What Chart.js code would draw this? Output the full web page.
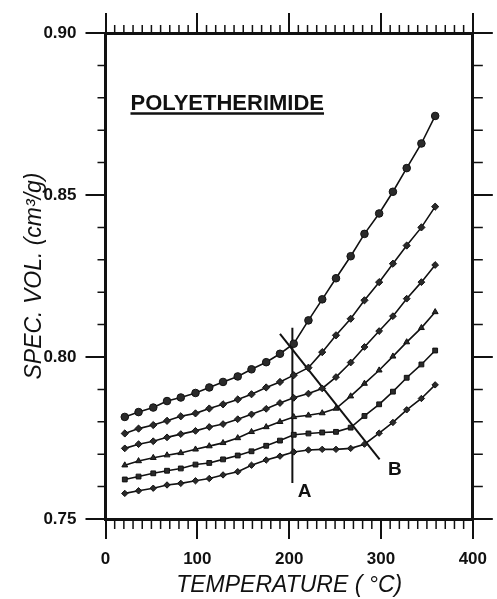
<!DOCTYPE html>
<html>
<head>
<meta charset="utf-8">
<script src="https://cdn.jsdelivr.net/npm/chart.js@4.4.0/dist/chart.umd.min.js"></script>
<style>
  html, body { margin: 0; padding: 0; background: #fff; }
</style>
</head>
<body>
<canvas id="pvt" width="497" height="599"></canvas>
<script>
// temperatures (°C) of the isotherms, shared by all six isobars
const temps = [21, 36, 52, 67, 82, 98, 113, 128, 144, 159, 175, 190, 205, 221, 236, 251, 267, 282, 298, 313, 328, 344, 359];

// specific volume (cm3/g), lowest pressure at top
const iso1 = [0.7815, 0.7830, 0.7844, 0.7864, 0.7875, 0.7889, 0.7906, 0.7923, 0.7940, 0.7962, 0.7984, 0.8010, 0.8041, 0.8113, 0.8178, 0.8243, 0.8311, 0.8380, 0.8443, 0.8510, 0.8583, 0.8659, 0.8744];
const iso2 = [0.7764, 0.7779, 0.7790, 0.7803, 0.7817, 0.7826, 0.7841, 0.7854, 0.7869, 0.7885, 0.7906, 0.7923, 0.7944, 0.7967, 0.8015, 0.8067, 0.8118, 0.8175, 0.8231, 0.8288, 0.8344, 0.8400, 0.8464];
const iso3 = [0.7718, 0.7731, 0.7740, 0.7752, 0.7762, 0.7772, 0.7784, 0.7793, 0.7808, 0.7823, 0.7840, 0.7858, 0.7874, 0.7887, 0.7903, 0.7938, 0.7983, 0.8031, 0.8080, 0.8126, 0.8180, 0.8231, 0.8284];
const iso4 = [0.7666, 0.7679, 0.7689, 0.7697, 0.7704, 0.7715, 0.7725, 0.7735, 0.7750, 0.7769, 0.7784, 0.7800, 0.7815, 0.7820, 0.7827, 0.7841, 0.7879, 0.7918, 0.7959, 0.8002, 0.8046, 0.8090, 0.8139];
const iso5 = [0.7622, 0.7631, 0.7641, 0.7649, 0.7656, 0.7668, 0.7673, 0.7684, 0.7696, 0.7709, 0.7726, 0.7742, 0.7760, 0.7764, 0.7767, 0.7769, 0.7782, 0.7818, 0.7854, 0.7893, 0.7936, 0.7977, 0.8020];
const iso6 = [0.7579, 0.7587, 0.7595, 0.7605, 0.7610, 0.7618, 0.7625, 0.7636, 0.7646, 0.7666, 0.7682, 0.7694, 0.7707, 0.7713, 0.7715, 0.7715, 0.7718, 0.7731, 0.7765, 0.7798, 0.7837, 0.7872, 0.7914];

// guide lines A (vertical) and B (through the transitions)
const lineA = [[203.5, 0.7611], [203.5, 0.8090]];
const lineB = [[190, 0.8071], [298.5, 0.7684]];

const xTicks = [0, 100, 200, 300, 400];
const yTicks = [0.75, 0.80, 0.85, 0.90];

const INK = '#111';
const FAMILY = '"Liberation Sans", Arial, sans-serif';

function pts(vals) {
  return vals.map((v, i) => ({ x: temps[i], y: v }));
}
function pairPts(arr) {
  return arr.map(p => ({ x: p[0], y: p[1] }));
}

function isobar(vals, style, r) {
  return {
    data: pts(vals),
    showLine: true,
    borderColor: INK,
    borderWidth: 1.6,
    tension: 0,
    pointStyle: style,
    pointRadius: r,
    pointBackgroundColor: '#2a2a2a',
    pointBorderColor: INK,
    pointBorderWidth: 1
  };
}

function guide(arr) {
  return {
    data: pairPts(arr),
    showLine: true,
    borderColor: INK,
    borderWidth: 2,
    pointRadius: 0,
    tension: 0
  };
}

// minor ticks, outward on all four sides
const minorTicks = {
  id: 'minorTicks',
  afterDraw(chart) {
    const { ctx, chartArea: a, scales } = chart;
    ctx.save();
    ctx.strokeStyle = INK;
    ctx.lineWidth = 1.5;
    ctx.beginPath();
    for (let t = 10; t < 400; t += 10) {
      if (t % 100 === 0) continue;
      const px = scales.x.getPixelForValue(t);
      ctx.moveTo(px, a.bottom); ctx.lineTo(px, a.bottom + 10);
      ctx.moveTo(px, a.top); ctx.lineTo(px, a.top - 8);
    }
    for (let k = 76; k < 90; k++) {
      if (k % 5 === 0) continue;
      const py = scales.y.getPixelForValue(k / 100);
      ctx.moveTo(a.left, py); ctx.lineTo(a.left - 8, py);
      ctx.moveTo(a.right, py); ctx.lineTo(a.right + 10, py);
    }
    ctx.stroke();
    ctx.restore();
  }
};

// sample name and the A / B marks
const labels = {
  id: 'labels',
  afterDatasetsDraw(chart) {
    const { ctx, scales: { x, y } } = chart;
    ctx.save();
    ctx.fillStyle = INK;
    ctx.strokeStyle = INK;
    ctx.textBaseline = 'alphabetic';
    ctx.font = 'bold 22px ' + FAMILY;
    const px = x.getPixelForValue(27.2), py = y.getPixelForValue(0.8762);
    ctx.fillText('POLYETHERIMIDE', px, py);
    const w = ctx.measureText('POLYETHERIMIDE').width;
    ctx.lineWidth = 2.5;
    ctx.beginPath();
    ctx.moveTo(px, py + 3.5); ctx.lineTo(px + w, py + 3.5);
    ctx.stroke();

    ctx.font = 'bold 19px ' + FAMILY;
    ctx.textAlign = 'center';
    ctx.textBaseline = 'middle';
    ctx.fillText('A', x.getPixelForValue(216.8), y.getPixelForValue(0.7585));
    ctx.fillText('B', x.getPixelForValue(315.1), y.getPixelForValue(0.7651));
    ctx.restore();
  }
};

const axisGrid = { drawOnChartArea: false, drawTicks: true, tickLength: 20, color: INK, lineWidth: 2 };
const axisBorder = { display: true, color: INK, width: 3 };
const tickFont = { family: FAMILY, size: 17, weight: 'bold' };

new Chart(document.getElementById('pvt'), {
  type: 'scatter',
  data: {
    datasets: [
      isobar(iso1, 'circle', 3.8),
      isobar(iso2, 'rectRot', 3.6),
      isobar(iso3, 'rectRot', 3.4),
      isobar(iso4, 'triangle', 3.4),
      isobar(iso5, 'rect', 3.4),
      isobar(iso6, 'rectRot', 3.2),
      guide(lineA),
      guide(lineB)
    ]
  },
  options: {
    responsive: false,
    animation: false,
    layout: { padding: 0 },
    plugins: { legend: { display: false }, tooltip: { enabled: false } },
    scales: {
      x: {
        type: 'linear', position: 'bottom', min: 0, max: 400,
        afterBuildTicks: s => { s.ticks = xTicks.map(v => ({ value: v })); },
        ticks: { font: tickFont, color: INK, padding: 10, maxRotation: 0 },
        grid: axisGrid, border: axisBorder,
        title: { display: true, text: 'TEMPERATURE ( °C)', color: INK,
          font: { family: FAMILY, size: 23, style: 'italic' }, padding: { top: 0, bottom: 0 } },
        afterFit: s => { s.height = 80; }
      },
      x2: {
        type: 'linear', position: 'top', min: 0, max: 400,
        afterBuildTicks: s => { s.ticks = xTicks.map(v => ({ value: v })); },
        ticks: { display: false },
        grid: axisGrid, border: axisBorder,
        afterFit: s => { s.height = 33; }
      },
      y: {
        type: 'linear', position: 'left', min: 0.75, max: 0.90,
        afterBuildTicks: s => { s.ticks = yTicks.map(v => ({ value: v })); },
        ticks: { font: tickFont, color: INK, padding: 9, callback: v => v.toFixed(2) },
        grid: axisGrid, border: axisBorder,
        title: { display: true, text: 'SPEC. VOL. (cm³/g)', color: INK,
          font: { family: FAMILY, size: 23, style: 'italic' }, padding: { top: 21, bottom: 0 } },
        afterFit: s => { s.width = 105.5; }
      },
      y2: {
        type: 'linear', position: 'right', min: 0.75, max: 0.90,
        afterBuildTicks: s => { s.ticks = yTicks.map(v => ({ value: v })); },
        ticks: { display: false },
        grid: axisGrid, border: axisBorder,
        afterFit: s => { s.width = 17; }
      }
    }
  },
  plugins: [minorTicks, labels]
});
</script>
</body>
</html>
